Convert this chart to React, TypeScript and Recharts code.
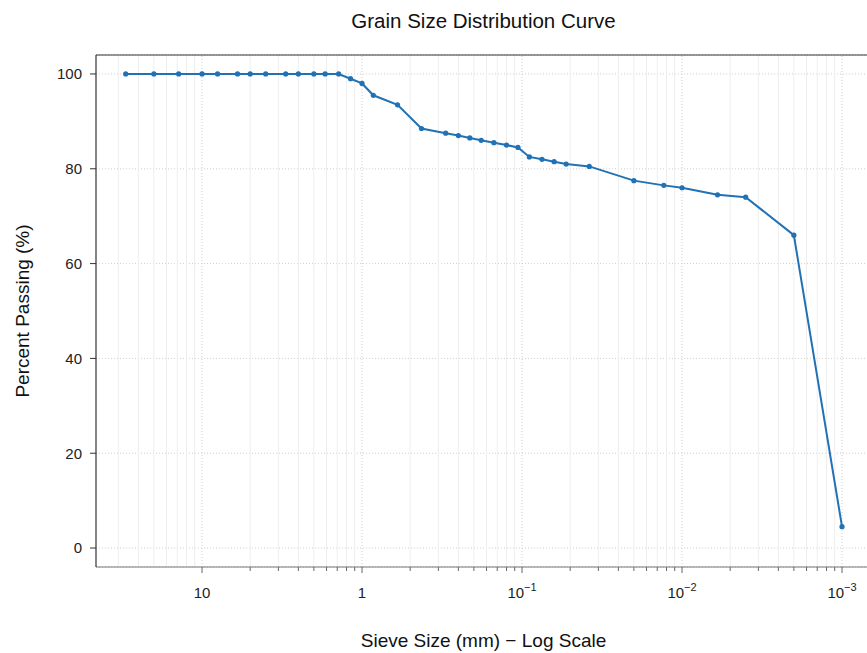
import { LineChart, Line, XAxis, YAxis, CartesianGrid, ReferenceLine } from "recharts";

const sieveSizes = [
  30, 20, 14, 10, 8, 6, 5, 4, 3, 2.5, 2, 1.7, 1.4, 1.18, 1, 0.85, 0.6, 0.425, 0.3, 0.25,
  0.212, 0.18, 0.15, 0.125, 0.106, 0.09, 0.075, 0.063, 0.053, 0.038, 0.02, 0.013, 0.01,
  0.006, 0.004, 0.002, 0.001,
];
const percentPassing = [
  100, 100, 100, 100, 100, 100, 100, 100, 100, 100, 100, 100, 100, 99, 98, 95.5, 93.5, 88.5,
  87.5, 87, 86.5, 86, 85.5, 85, 84.5, 82.5, 82, 81.5, 81, 80.5, 77.5, 76.5, 76, 74.5, 74, 66,
  4.5,
];
const majorTicks = [10, 1, 0.1, 0.01, 0.001];
const yTicks = [0, 20, 40, 60, 80, 100];

// minor ticks sit at 10^(k+1)/m inside each decade, as in the original plot
const minorTicks: number[] = [];
for (let k = 0; k >= -3; k--) {
  for (let m = 2; m <= 9; m++) minorTicks.push(Math.pow(10, k + 1) / m);
}
const extraMinorGrid = [100 / 3, 25, 20, 100 / 6, 100 / 7, 12.5, 100 / 9];

const data = sieveSizes.map((size, i) => ({ size, passing: percentPassing[i] }));

const FONT = '"Liberation Sans", Arial, Helvetica, sans-serif';
const BLUE = "#2171b5";

const XTick = (props: any) => {
  const { x, y, payload } = props;
  const v = payload.value as number;
  const lg = Math.log10(v);
  const exp = Math.round(lg);
  const major = Math.abs(lg - exp) < 1e-6;
  return (
    <g>
      <line x1={x} x2={x} y1={y} y2={y + (major ? 6 : 4)} stroke="#666" strokeWidth={1} />
      {major && (
        <text x={x} y={y + 31} textAnchor="middle" fontSize={15} fill="#222" fontFamily={FONT}>
          {exp >= 0 ? (
            String(Math.pow(10, exp))
          ) : (
            <>
              10
              <tspan dy={-7} fontSize={11}>
                {"\u2212" + Math.abs(exp)}
              </tspan>
            </>
          )}
        </text>
      )}
    </g>
  );
};

export default function App() {
  return (
    <div style={{ position: "absolute", left: 0, top: 0, width: 867, height: 653, overflow: "hidden", background: "#fff", fontFamily: FONT }}>
      <div style={{ position: "absolute", left: 0, width: 967, top: 9, textAlign: "center", fontSize: 20.5, color: "#111" }}>
        Grain Size Distribution Curve
      </div>
      <div style={{ position: "absolute", left: 0, width: 967, top: 630, textAlign: "center", fontSize: 19, color: "#111" }}>
        Sieve Size (mm) − Log Scale
      </div>
      <div
        style={{
          position: "absolute",
          left: 23,
          top: 311,
          transform: "translate(-50%, -50%) rotate(-90deg)",
          whiteSpace: "nowrap",
          fontSize: 19,
          color: "#111",
        }}
      >
        Percent Passing (%)
      </div>
      <div style={{ position: "absolute", left: 0, top: 0 }}>
        <LineChart width={875} height={653} data={data} margin={{ top: 55, right: 4, bottom: 0, left: 0 }}>
          <CartesianGrid vertical={false} stroke="#cfcfcf" strokeDasharray="1 2" />
          {[...minorTicks, ...extraMinorGrid].map((v) => (
            <ReferenceLine key={"m" + v} x={v} stroke="#eeeeee" strokeWidth={1} />
          ))}
          {majorTicks.map((v) => (
            <ReferenceLine key={"M" + v} x={v} stroke="#cfcfcf" strokeDasharray="1 2" />
          ))}
          <ReferenceLine y={104} stroke="#333" strokeWidth={1.2} />
          <XAxis
            dataKey="size"
            type="number"
            scale="log"
            domain={[0.000659, 46]}
            allowDataOverflow
            reversed
            ticks={[...majorTicks, ...minorTicks]}
            interval={0}
            tick={<XTick />}
            tickSize={0}
            tickMargin={0}
            tickLine={false}
            height={86}
            axisLine={{ stroke: "#777", strokeWidth: 1.2 }}
          />
          <YAxis
            type="number"
            domain={[-4, 104]}
            ticks={yTicks}
            width={96}
            tickSize={6}
            tickMargin={8}
            tick={{ fontSize: 15, fill: "#222", fontFamily: FONT }}
            tickLine={{ stroke: "#333" }}
            axisLine={{ stroke: "#333", strokeWidth: 1.2 }}
          />
          <Line
            type="linear"
            dataKey="passing"
            stroke={BLUE}
            strokeWidth={2}
            dot={{ r: 2.6, fill: BLUE, stroke: BLUE, strokeWidth: 0 }}
            isAnimationActive={false}
          />
        </LineChart>
      </div>
    </div>
  );
}
